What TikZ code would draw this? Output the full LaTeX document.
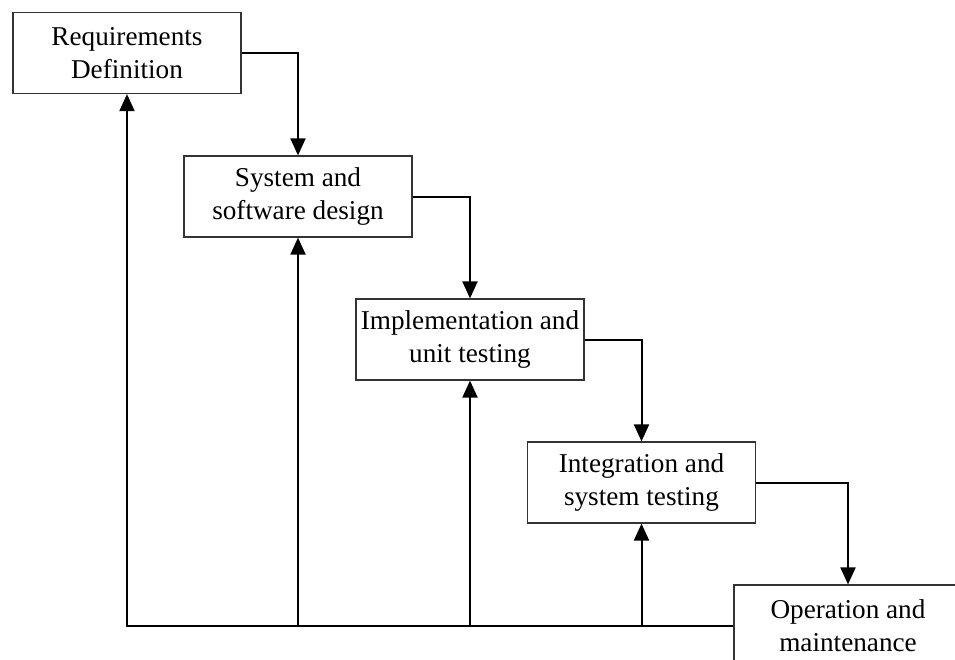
\documentclass[tikz,border=0pt]{standalone}
\usepackage{fontspec}
\setmainfont{Liberation Serif}
\usetikzlibrary{arrows.meta}
\begin{document}
\begin{tikzpicture}[x=1pt,y=-1pt,
  stagebox/.style={draw=black!80,line width=1.2pt,fill=white,minimum width=228pt,minimum height=81pt,
    inner sep=0pt,align=center,font=\fontsize{27.2}{33}\selectfont},
  flow/.style={line width=2pt,-{Triangle[length=17pt,width=15pt]}}]
\useasboundingbox (0,0) rectangle (955,659);
\node[stagebox] (b1) at (127,53) {Requirements\\Definition};
\node[stagebox] (b2) at (298,196.5) {System and\\software design};
\node[stagebox] (b3) at (470,339.5) {Implementation and\\unit testing};
\node[stagebox] (b4) at (641.5,482.5) {Integration and\\system testing};
\node[stagebox] (b5) at (848,625.5) {Operation and\\maintenance};
\draw[flow] (b1.east) -| (b2.north);
\draw[flow] (b2.east) -| (b3.north);
\draw[flow] (b3.east) -| (b4.north);
\draw[flow] (b4.east) -| (b5.north);
\draw[flow] (b5.west) -| (b1.south);
\coordinate (f2) at (b2.south |- b5.west);
\coordinate (f3) at (b3.south |- b5.west);
\coordinate (f4) at (b4.south |- b5.west);
\draw[flow] (f2) -- (b2.south);
\draw[flow] (f3) -- (b3.south);
\draw[flow] (f4) -- (b4.south);
\end{tikzpicture}
\end{document}
